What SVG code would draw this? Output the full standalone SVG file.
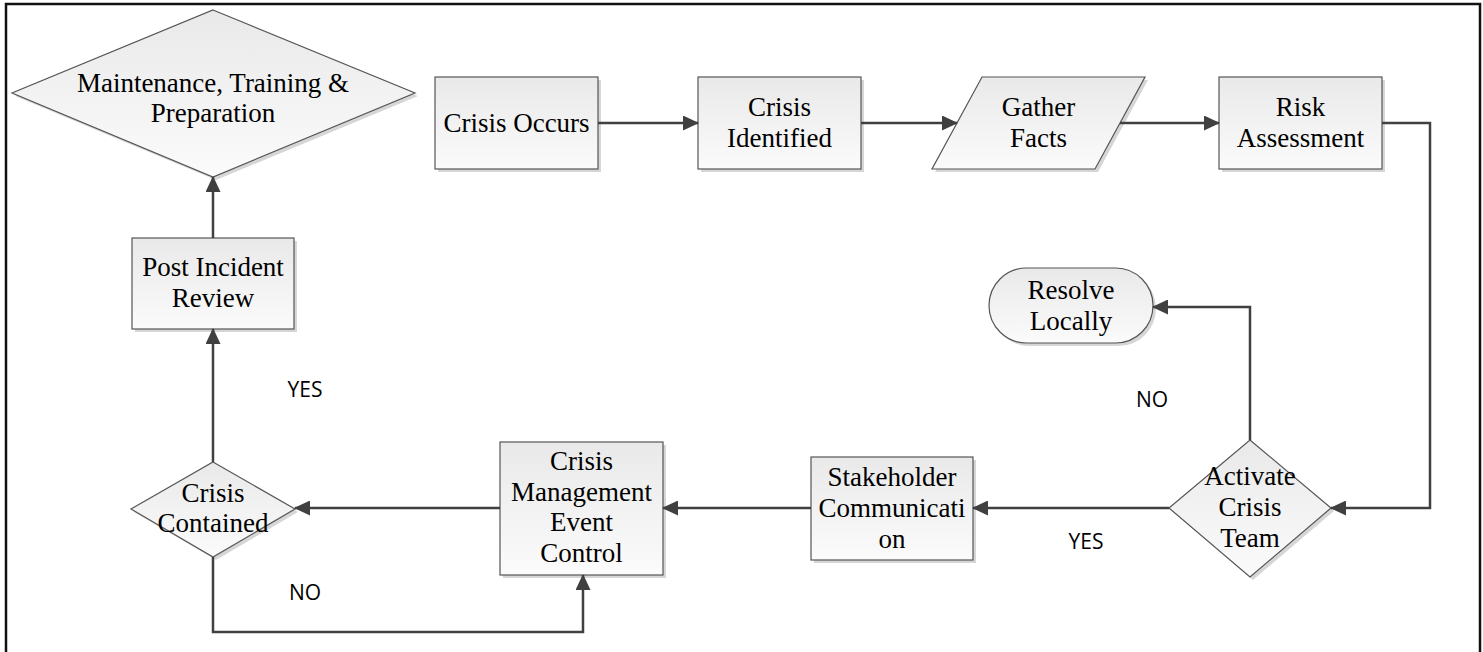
<svg xmlns="http://www.w3.org/2000/svg" width="1483" height="652" viewBox="0 0 1483 652">
<defs>
<linearGradient id="g" x1="0" y1="0" x2="0" y2="1">
<stop offset="0" stop-color="#e9e9e9"/>
<stop offset="1" stop-color="#fbfbfb"/>
</linearGradient>
<marker id="arr" viewBox="0 0 16 15" refX="15" refY="7.5" markerWidth="16" markerHeight="15" markerUnits="userSpaceOnUse" orient="auto">
<path d="M0,0 L16,7.5 L0,15 Z" fill="#404040"/>
</marker>
<style>
.shape{fill:url(#g);stroke:#555;stroke-width:1.2}
.shadow{fill:#d6d6d6;stroke:none}
.t{font-family:"Liberation Serif","Times New Roman",serif;font-size:27px;fill:#000;text-anchor:middle}
.lbl{font-family:"Open Sans","Liberation Sans",sans-serif;font-size:21px;fill:#000;text-anchor:middle}
.c{fill:none;stroke:#404040;stroke-width:2.5;marker-end:url(#arr)}
</style>
</defs>
<rect x="0" y="0" width="1483" height="652" fill="#fff"/>
<rect x="6" y="4" width="1474" height="700" fill="none" stroke="#111" stroke-width="2.5"/>

<g id="maintenance">
<polygon class="shadow" points="216,13 418,96 216,180 15,96"/>
<polygon class="shape" points="213,10 415,93 213,177 12,93"/>
<text class="t" x="213" y="92">Maintenance, Training &amp;</text>
<text class="t" x="213" y="122">Preparation</text>
</g>

<g id="crisis-occurs">
<rect class="shadow" x="438" y="80" width="163" height="92"/>
<rect class="shape" x="435" y="77" width="163" height="92"/>
<text class="t" x="516.5" y="132">Crisis Occurs</text>
</g>

<g id="crisis-identified">
<rect class="shadow" x="701" y="80" width="163" height="92"/>
<rect class="shape" x="698" y="77" width="163" height="92"/>
<text class="t" x="779.5" y="116">Crisis</text>
<text class="t" x="779.5" y="147">Identified</text>
</g>

<g id="gather-facts">
<polygon class="shadow" points="985,80 1148,80 1098,172 935,172"/>
<polygon class="shape" points="982,77 1145,77 1095,169 932,169"/>
<text class="t" x="1038.5" y="116">Gather</text>
<text class="t" x="1038.5" y="147">Facts</text>
</g>

<g id="risk-assessment">
<rect class="shadow" x="1222" y="80" width="163" height="92"/>
<rect class="shape" x="1219" y="77" width="163" height="92"/>
<text class="t" x="1300.5" y="116">Risk</text>
<text class="t" x="1300.5" y="147">Assessment</text>
</g>

<g id="resolve-locally">
<rect class="shadow" x="992" y="271" width="164" height="75" rx="37.5" ry="37.5"/>
<rect class="shape" x="989" y="268" width="164" height="75" rx="37.5" ry="37.5"/>
<text class="t" x="1071" y="299">Resolve</text>
<text class="t" x="1071" y="330">Locally</text>
</g>

<g id="activate-crisis-team">
<polygon class="shadow" points="1253,443 1334,511 1253,580 1172,511"/>
<polygon class="shape" points="1250,440 1331,508 1250,577 1169,508"/>
<text class="t" x="1250" y="485">Activate</text>
<text class="t" x="1250" y="516">Crisis</text>
<text class="t" x="1250" y="547">Team</text>
</g>

<g id="stakeholder-communication">
<rect class="shadow" x="814" y="460" width="162" height="103"/>
<rect class="shape" x="811" y="457" width="162" height="103"/>
<text class="t" x="892" y="486">Stakeholder</text>
<text class="t" x="892" y="517">Communicati</text>
<text class="t" x="892" y="548">on</text>
</g>

<g id="crisis-management">
<rect class="shadow" x="503" y="445" width="163" height="133"/>
<rect class="shape" x="500" y="442" width="163" height="133"/>
<text class="t" x="581.5" y="470">Crisis</text>
<text class="t" x="581.5" y="500.5">Management</text>
<text class="t" x="581.5" y="531">Event</text>
<text class="t" x="581.5" y="561.5">Control</text>
</g>

<g id="crisis-contained">
<polygon class="shadow" points="216,465 298,512 216,560 134,512"/>
<polygon class="shape" points="213,462 295,509 213,557 131,509"/>
<text class="t" x="213" y="502">Crisis</text>
<text class="t" x="213" y="532">Contained</text>
</g>

<g id="post-incident-review">
<rect class="shadow" x="135" y="241" width="162" height="91"/>
<rect class="shape" x="132" y="238" width="162" height="91"/>
<text class="t" x="213" y="276">Post Incident</text>
<text class="t" x="213" y="307">Review</text>
</g>

<g id="connectors">
<path class="c" d="M598,123 L698,123"/>
<path class="c" d="M861,123 L957,123"/>
<path class="c" d="M1120,123 L1219,123"/>
<path class="c" d="M1382,123 L1430,123 L1430,508 L1331,508"/>
<path class="c" d="M1250,440 L1250,307 L1153,307"/>
<path class="c" d="M1169,508 L973,508"/>
<path class="c" d="M811,508 L663,508"/>
<path class="c" d="M500,508 L295,508"/>
<path class="c" d="M213,557 L213,632 L583,632 L583,575"/>
<path class="c" d="M213,462 L213,329"/>
<path class="c" d="M213,238 L213,177"/>
</g>

<g id="labels">
<text class="lbl" x="1152" y="407">NO</text>
<text class="lbl" x="1086" y="549">YES</text>
<text class="lbl" x="305" y="397">YES</text>
<text class="lbl" x="305" y="600">NO</text>
</g>
</svg>
